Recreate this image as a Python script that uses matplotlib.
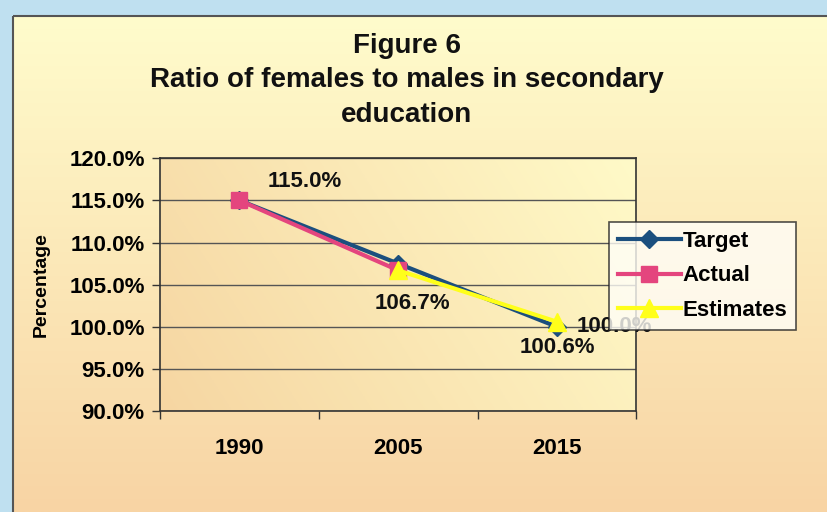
import numpy as np
import matplotlib
matplotlib.use("Agg")
import matplotlib.pyplot as plt
from matplotlib.patches import Rectangle

# chart data
years = ["1990", "2005", "2015"]
target = [115.0, 107.5, 100.0]
actual = [115.0, 106.7, None]
estimates = [None, 106.7, 100.6]
y_ticks = [90, 95, 100, 105, 110, 115, 120]

plt.rcParams['font.family'] = ['Liberation Sans', 'DejaVu Sans']
plt.rcParams['font.weight'] = 'bold'

fig = plt.figure(figsize=(8.27, 5.12), dpi=100)
fig.patch.set_facecolor('#bfe0f0')

# chart area with vertical gradient
bg = fig.add_axes([0, 0, 1, 1], zorder=0)
bg.set_xlim(0, 827)
bg.set_ylim(512, 0)
bg.axis('off')
grad = np.linspace(0, 1, 256).reshape(-1, 1)
c_top = np.array([255, 252, 204]) / 255
c_bot = np.array([248, 212, 164]) / 255
img = c_top + grad[..., None] * (c_bot - c_top)
bg.imshow(img, extent=[13, 827, 512, 16], aspect='auto', zorder=1)
bg.add_patch(Rectangle((13, 16), 830, 520, fill=False, edgecolor='#555555', lw=1.5, zorder=2))

ax = fig.add_axes([0.1935, 0.197, 0.576, 0.494], zorder=2)
ax.set_facecolor('none')

# plot area gradient (left tan -> right pale yellow)
gx = np.linspace(0, 1, 256).reshape(1, -1)
gy = np.linspace(0, 1, 64).reshape(-1, 1)
t = np.clip(0.75 * gx + 0.25 * (1 - gy), 0, 1)
p_left = np.array([246, 214, 162]) / 255
p_right = np.array([255, 250, 200]) / 255
pimg = p_left + t[..., None] * (p_right - p_left)
ax.imshow(pimg, extent=[-0.5, 2.5, 90, 120], aspect='auto', zorder=0, origin='upper')

x = np.arange(len(years))

def series(vals):
    xs = [i for i, v in enumerate(vals) if v is not None]
    ys = [v for v in vals if v is not None]
    return xs, ys

tx, ty = series(target)
axx, ay = series(actual)
ex, ey = series(estimates)

ax.plot(tx, ty, color='#1b4f7e', lw=3, marker='D', ms=9, label='Target', zorder=3)
ax.plot(axx, ay, color='#e4457e', lw=3, marker='s', ms=11, label='Actual', zorder=4)
ax.plot(ex, ey, color='#ffff1a', lw=3, marker='^', ms=13, label='Estimates', zorder=5)

# data labels
lab_kw = dict(textcoords='offset pixels', fontsize=16, fontweight='bold', color='#111111', zorder=6)
ax.annotate(f"{target[0]:.1f}%", (0, target[0]), xytext=(65, 19), ha='center', va='center', **lab_kw)
ax.annotate(f"{actual[1]:.1f}%", (1, actual[1]), xytext=(14, -33), ha='center', va='center', **lab_kw)
ax.annotate(f"{estimates[2]:.1f}%", (2, estimates[2]), xytext=(0, -26), ha='center', va='center', **lab_kw)
ax.annotate(f"{target[2]:.1f}%", (2, target[2]), xytext=(20, 0), ha='left', va='center', **lab_kw)

ax.set_xlim(-0.5, 2.5)
ax.set_ylim(90, 120)
ax.set_yticks(y_ticks)
ax.set_yticklabels([f"{v:.1f}%" for v in y_ticks], fontsize=16, fontweight='bold')
ax.set_xticks(x)
ax.set_xticklabels(years, fontsize=16, fontweight='bold')
ax.set_xticks([-0.5, 0.5, 1.5, 2.5], minor=True)
ax.tick_params(axis='x', which='major', length=0, pad=19)
ax.tick_params(axis='x', which='minor', length=6, width=1, direction='out', color='#333333')
ax.tick_params(axis='y', length=6, width=1, direction='out', color='#333333', pad=5)
ax.grid(axis='y', color='#555555', lw=1)
for s in ax.spines.values():
    s.set_color('#333333')
    s.set_linewidth(1.2)

ax.set_ylabel("Percentage", fontsize=14, fontweight='bold', labelpad=14)

fig.text(0.492, 0.843, "Figure 6\nRatio of females to males in secondary\neducation",
         ha='center', va='center', fontsize=20, fontweight='bold', linespacing=1.44, color='#111111')

leg = fig.legend(loc='upper left', bbox_to_anchor=(0.737, 0.566), fontsize=16,
                 frameon=True, fancybox=False, edgecolor='#222222', handlelength=2.8,
                 handletextpad=0.1, borderpad=0.4, labelspacing=0.6, borderaxespad=0)
leg.get_frame().set_facecolor('#fffef8')
leg.get_frame().set_linewidth(1.2)
leg.set_zorder(10)
for txt in leg.get_texts():
    txt.set_fontweight('bold')

fig.savefig("out.png", dpi=100)
